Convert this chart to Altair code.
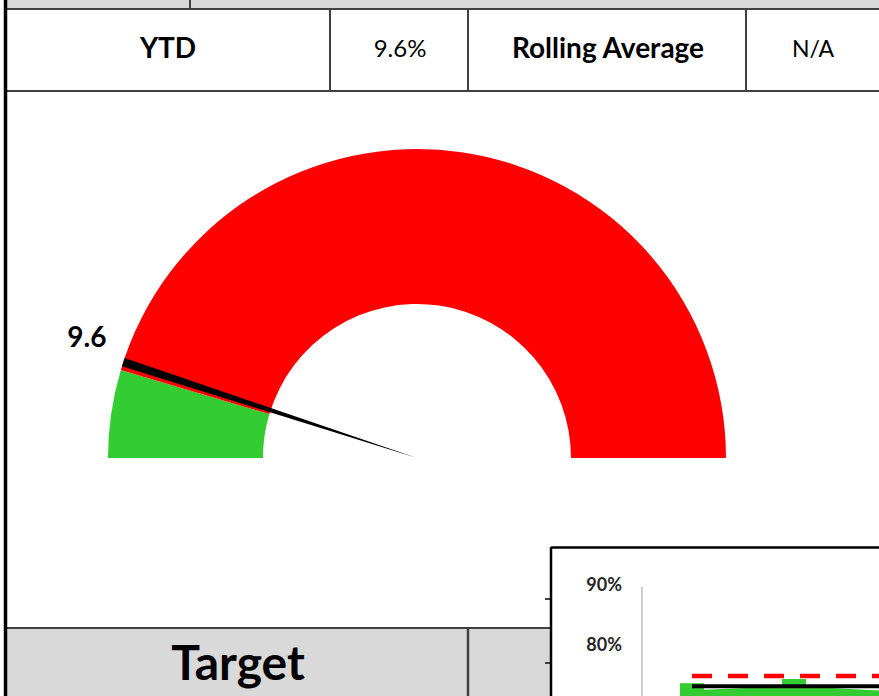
import math
import altair as alt
import pandas as pd

# ---------------- data ----------------
gauge_value = 9.6
gauge_label = "9.6"
band_names = ["Green", "Red"]
band_start = [0.0, 9.2]
band_end = [9.2, 100.0]
band_colors = ["#33CC33", "#FF0000"]
needle_width = 0.9

header_labels = ["YTD", "9.6%", "Rolling Average", "N/A"]
footer_labels = ["Target"]

months = ["Apr", "May", "Jun", "Jul", "Aug", "Sep", "Oct", "Nov", "Dec", "Jan", "Feb", "Mar"]
actual = [71.8, 72.5, 71.6]
target = [75, 75, 75, 75, 75, 75, 75, 75, 75, 75, 75, 75]
benchmark = [73.3, 73.3, 73.3, 73.3, 73.3, 73.3, 73.3, 73.3, 73.3, 73.3, 73.3, 73.3]
tick_values = [90, 80]
tick_labels = ["90%", "80%"]

# ---------------- layout (pixels) ----------------
FONT = "Lato"
CX, CY = 417, 458
R_OUT, R_IN = 309, 154

rects = pd.DataFrame([
    dict(x=7, x2=879, y=0, y2=9, c="#d9d9d9"),
    dict(x=7, x2=551, y=628, y2=696, c="#d9d9d9"),
])
inset_bg = pd.DataFrame([dict(x=551, x2=879, y=547, y2=696, c="#ffffff")])

lines = pd.DataFrame([
    dict(x=7, x2=879, y=9, y2=9, c="#404040", w=2),
    dict(x=190, x2=190, y=0, y2=9, c="#404040", w=2),
    dict(x=330, x2=330, y=9, y2=91, c="#404040", w=2),
    dict(x=468, x2=468, y=9, y2=91, c="#404040", w=2),
    dict(x=746, x2=746, y=9, y2=91, c="#404040", w=2),
    dict(x=7, x2=879, y=91, y2=91, c="#404040", w=2),
    dict(x=7, x2=551, y=628, y2=628, c="#404040", w=2),
    dict(x=468, x2=468, y=628, y2=696, c="#404040", w=2.5),
    dict(x=545, x2=551, y=599, y2=599, c="#404040", w=2),
    dict(x=545, x2=551, y=663, y2=663, c="#404040", w=2),
    dict(x=5.5, x2=5.5, y=0, y2=696, c="#000000", w=3.5),
])
inset_lines = pd.DataFrame([
    dict(x=551, x2=551, y=547, y2=696, c="#000000", w=2.5),
    dict(x=551, x2=879, y=547.5, y2=547.5, c="#000000", w=2.5),
    dict(x=642, x2=642, y=587, y2=696, c="#bfbfbf", w=1.5),
])

header_pos = [(168, 58, 28, "bold"), (400, 57, 24, "normal"), (608, 58, 28, "bold"), (813, 57, 23, "normal")]
footer_pos = [(238, 680, 48, "bold")]


def rect_layer(df):
    return alt.Chart(df).mark_rect().encode(
        x=alt.X("x:Q", scale=None, axis=None), x2="x2:Q",
        y=alt.Y("y:Q", scale=None, axis=None), y2="y2:Q",
        color=alt.Color("c:N", scale=None),
    )


def rule_layer(df):
    return alt.Chart(df).mark_rule().encode(
        x=alt.X("x:Q", scale=None, axis=None), x2="x2:Q",
        y=alt.Y("y:Q", scale=None, axis=None), y2="y2:Q",
        color=alt.Color("c:N", scale=None),
        strokeWidth=alt.StrokeWidth("w:Q", scale=None),
    )


def text_layer(label, pos):
    x, y, s, wgt = pos
    df = pd.DataFrame({"t": [label], "x": [x], "y": [y]})
    return alt.Chart(df).mark_text(
        font=FONT, fontSize=s, fontWeight=wgt, align="center", baseline="alphabetic", color="black"
    ).encode(
        x=alt.X("x:Q", scale=None, axis=None),
        y=alt.Y("y:Q", scale=None, axis=None),
        text="t:N",
    )


layers = [rect_layer(rects), rule_layer(lines)]
for lab, pos in zip(header_labels, header_pos):
    layers.append(text_layer(lab, pos))
for lab, pos in zip(footer_labels, footer_pos):
    layers.append(text_layer(lab, pos))

# ---------------- gauge ----------------
theta_scale = alt.Scale(domain=[0, 100], range=[1.5 * math.pi, 2.5 * math.pi])
bands = pd.DataFrame({"band": band_names, "start": band_start, "end": band_end, "c": band_colors})
gauge = alt.Chart(bands).mark_arc(radius=R_OUT, radius2=R_IN).encode(
    x=alt.value(CX), y=alt.value(CY),
    theta=alt.Theta("start:Q", scale=theta_scale, stack=None),
    theta2="end:Q",
    color=alt.Color("c:N", scale=None),
)
needle_df = pd.DataFrame({"start": [gauge_value], "end": [gauge_value + needle_width]})
needle = alt.Chart(needle_df).mark_arc(radius=R_OUT, color="black").encode(
    x=alt.value(CX), y=alt.value(CY),
    theta=alt.Theta("start:Q", scale=theta_scale, stack=None),
    theta2="end:Q",
)
label_df = pd.DataFrame({"v": [gauge_value], "t": [gauge_label]})
label = alt.Chart(label_df).mark_text(
    radius=330, font=FONT, fontSize=28, fontWeight="bold", dx=-15, dy=-21,
    align="center", baseline="middle", color="black",
).encode(
    x=alt.value(CX), y=alt.value(CY),
    theta=alt.Theta("v:Q", scale=theta_scale, stack=None),
    text="t:N",
)
layers += [gauge, needle, label]

# ---------------- inset line chart ----------------
xs = alt.Scale(domain=[0, 1], range=[692, 794], nice=False, zero=False)
ys = alt.Scale(domain=[70, 90], range=[706, 586], nice=False, zero=False)

n = len(actual)
act_df = pd.DataFrame({"month": months[:n], "idx": list(range(n)), "v": actual})
ref_df = pd.DataFrame({"month": months, "idx": list(range(len(months))), "target": target, "bench": benchmark})
tick_df = pd.DataFrame({"v": tick_values, "t": tick_labels})

green_line = alt.Chart(act_df).mark_line(color="#33CC33", strokeWidth=10).encode(
    x=alt.X("idx:Q", scale=xs, axis=None), y=alt.Y("v:Q", scale=ys, axis=None))
green_pts = alt.Chart(act_df).mark_point(shape="square", filled=True, size=576, color="#33CC33", opacity=1).encode(
    x=alt.X("idx:Q", scale=xs, axis=None), y=alt.Y("v:Q", scale=ys, axis=None))
black_line = alt.Chart(ref_df).mark_line(color="black", strokeWidth=4).encode(
    x=alt.X("idx:Q", scale=xs, axis=None), y=alt.Y("bench:Q", scale=ys, axis=None))
red_line = alt.Chart(ref_df).mark_line(color="#FF0000", strokeWidth=4.5, strokeDash=[20, 16]).encode(
    x=alt.X("idx:Q", scale=xs, axis=None), y=alt.Y("target:Q", scale=ys, axis=None))
ticks = alt.Chart(tick_df).mark_text(
    font=FONT, fontSize=18, fontWeight="bold", align="right", baseline="middle", color="#262626"
).encode(x=alt.value(622), y=alt.Y("v:Q", scale=ys, axis=None), text="t:N")

layers += [rect_layer(inset_bg), rule_layer(inset_lines), green_line, green_pts, black_line, red_line, ticks]

chart = alt.layer(*layers).resolve_scale(x="independent", y="independent").properties(
    width=879, height=696, padding=0, autosize=alt.AutoSizeParams(type="none"), background="white"
).configure_view(stroke=None)

chart.save("out.html", embed_options={"renderer": "svg", "actions": False})
